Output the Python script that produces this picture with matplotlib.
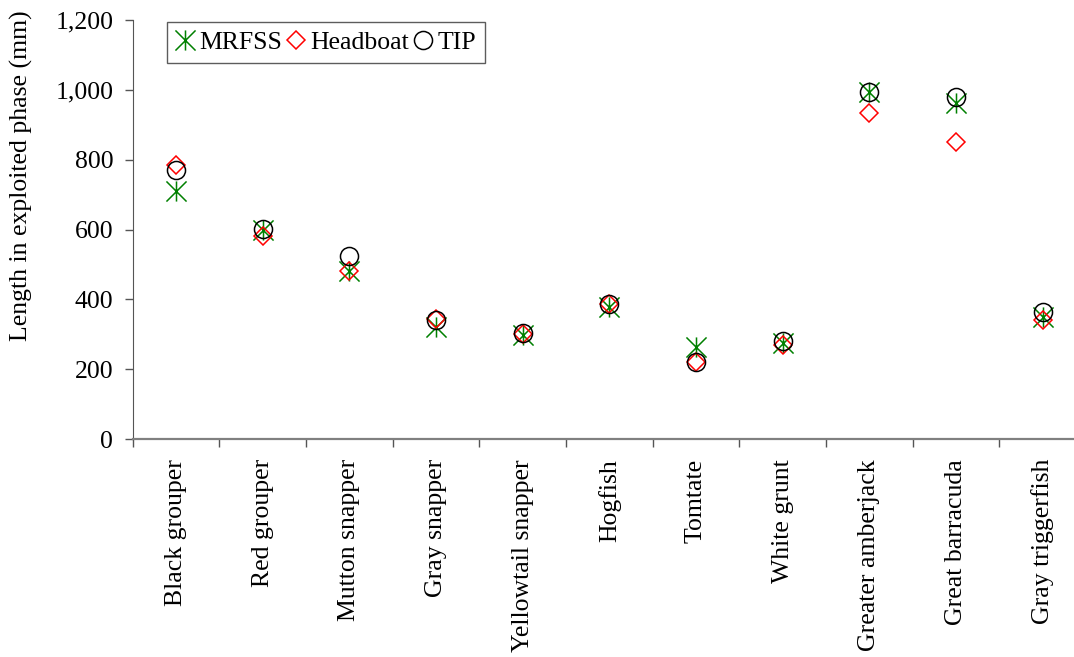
import matplotlib
matplotlib.use('Agg')
import matplotlib.pyplot as plt
import numpy as np
from matplotlib.path import Path

species = ['Black grouper', 'Red grouper', 'Mutton snapper', 'Gray snapper',
           'Yellowtail snapper', 'Hogfish', 'Tomtate', 'White grunt',
           'Greater amberjack', 'Great barracuda', 'Gray triggerfish']

mrfss = [710, 599, 480, 321, 299, 379, 263, 276, 993, 961, 350]
headboat = [784, 581, 481, 344, 302, 386, 221, 269, 933, 851, 341]
tip = [770, 601, 524, 342, 305, 388, 221, 281, 995, 980, 365]

plt.rcParams['font.family'] = ['Liberation Serif', 'DejaVu Serif']
FS = 18.5

# excel-style star: an X with a vertical bar through it
star = Path([(-1, -1), (1, 1), (-1, 1), (1, -1), (0, -1), (0, 1)],
            [Path.MOVETO, Path.LINETO, Path.MOVETO, Path.LINETO,
             Path.MOVETO, Path.LINETO])

W, H = 1074, 657
fig = plt.figure(figsize=(W / 100, H / 100), dpi=100)
# right edge of the plot area runs past the figure border
ax = fig.add_axes([132.7 / W, 1 - 439 / H, (1086 - 132.7) / W, 419 / H])

x = np.arange(len(species))
ax.plot(x, mrfss, ls='none', marker=star, ms=14.5, mec='#008000',
        mfc='none', mew=1.1, label='MRFSS')
ax.plot(x, headboat, ls='none', marker='D', ms=9.6, mec='#ff0000',
        mfc='none', mew=1.1, label='Headboat')
ax.plot(x, tip, ls='none', marker='o', ms=13, mec='black',
        mfc='none', mew=1.1, label='TIP')

ax.set_xlim(-0.5, len(species) - 0.5)
ax.set_ylim(0, 1200)
ax.set_yticks(np.arange(0, 1201, 200))
ax.yaxis.set_major_formatter(matplotlib.ticker.FuncFormatter(lambda v, p: '{:,.0f}'.format(v)))
ax.set_xticks(np.arange(len(species) + 1) - 0.5)
ax.set_xticklabels([])
ax.set_xticks(x, minor=True)
ax.set_xticklabels(species, minor=True, rotation=90, fontsize=FS)
ax.tick_params(axis='x', which='minor', length=0, pad=14.4)
ax.tick_params(axis='x', which='major', length=6, width=1, color='#555555')
ax.tick_params(axis='y', length=6, width=1, color='#555555', pad=8, labelsize=FS)

for side in ['top', 'right']:
    ax.spines[side].set_visible(False)
ax.spines['left'].set_color('#555555')
ax.spines['bottom'].set_color('#808080')
ax.spines['bottom'].set_linewidth(1.6)

ax.set_ylabel('Length in exploited phase (mm)', fontsize=FS)
ax.yaxis.set_label_coords(-0.1046, 0.628)

leg = ax.legend(loc='upper left', bbox_to_anchor=(0.036, 0.995), ncol=3,
                fontsize=FS, frameon=True, fancybox=False, handlelength=0.7,
                handletextpad=0.2, columnspacing=0.2, borderpad=0.35,
                borderaxespad=0)
leg.get_frame().set_edgecolor('#333333')
leg.get_frame().set_linewidth(1.0)

fig.savefig('out.png', dpi=100)
